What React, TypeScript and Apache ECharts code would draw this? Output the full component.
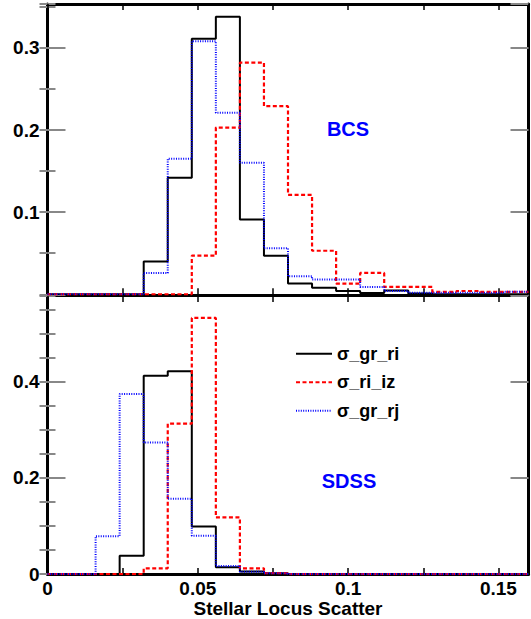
import React, { useEffect, useRef } from "react";
import * as echarts from "echarts";

// Bin edges (x = stellar locus scatter)
const BIN_EDGES = [
  0, 0.008, 0.016, 0.024, 0.032, 0.04, 0.048, 0.056, 0.064, 0.072, 0.08,
  0.088, 0.096, 0.104, 0.112, 0.12, 0.128, 0.136, 0.144, 0.152, 0.16,
];

const SERIES_NAMES = ["σ_gr_ri", "σ_ri_iz", "σ_gr_rj"];

// BCS panel (top)
const BCS_GR_RI = [0, 0, 0, 0, 0.04, 0.142, 0.311, 0.338, 0.091, 0.047, 0.013, 0.008, 0.004, 0.0015, 0.0045, 0.001, 0, 0, 0, 0];
const BCS_RI_IZ = [0, 0, 0, 0, 0, 0, 0.047, 0.203, 0.282, 0.229, 0.121, 0.053, 0.013, 0.026, 0.009, 0.009, 0.003, 0.004, 0.003, 0.003];
const BCS_GR_RJ = [0, 0, 0, 0, 0.026, 0.165, 0.308, 0.221, 0.16, 0.056, 0.022, 0.018, 0.018, 0.009, 0.004, 0.002, 0.002, 0.002, 0.002, 0.003];

// SDSS panel (bottom)
const SDSS_GR_RI = [0, 0, 0, 0.038, 0.413, 0.422, 0.099, 0.014, 0.0055, 0.002, 0, 0, 0, 0, 0, 0, 0, 0, 0, 0];
const SDSS_RI_IZ = [0, 0, 0, 0, 0.012, 0.313, 0.533, 0.118, 0.012, 0.002, 0, 0, 0, 0, 0, 0, 0, 0, 0, 0];
const SDSS_GR_RJ = [0, 0, 0.079, 0.375, 0.274, 0.157, 0.08, 0.017, 0.005, 0.002, 0, 0, 0, 0, 0, 0, 0, 0, 0, 0];

const X_MIN = 0;
const X_MAX = 0.16;
const TOP_Y_MAX = 0.3534;
const BOT_Y_MAX = 0.5787;

const FONT = "'Liberation Sans', Arial, Helvetica, sans-serif";

function stepPoints(vals: number[]) {
  const pts: number[][] = [];
  vals.forEach((v, i) => {
    pts.push([BIN_EDGES[i], v], [BIN_EDGES[i + 1], v]);
  });
  return pts;
}

const fmt = (v: number) => String(Number(v.toFixed(3)));
const isMult = (v: number, step: number) =>
  Math.abs(v / step - Math.round(v / step)) < 1e-6;

export default function App() {
  const ref = useRef<HTMLDivElement>(null);

  useEffect(() => {
    if (!ref.current) return;
    const chart = echarts.init(ref.current, undefined, { renderer: "svg" });

    const styles = [
      { color: "#000000", width: 2, type: "solid" as any },
      { color: "#ff0000", width: 2.2, type: [4, 2.5] as any },
      { color: "#0000ff", width: 2, type: [1, 1.4] as any },
    ];

    const xAxisBase = (grid: number, position: string, lineWidth: number, labels: boolean) => ({
      type: "value",
      gridIndex: grid,
      position,
      min: X_MIN,
      max: X_MAX,
      interval: 0.025,
      splitLine: { show: false },
      axisLine: { show: true, onZero: false, lineStyle: { color: "#000", width: lineWidth } },
      axisTick: { show: true, inside: true, length: 6, lineStyle: { color: "#000", width: 1.5 } },
      axisLabel: labels
        ? {
            show: true,
            margin: 5,
            color: "#000",
            fontFamily: FONT,
            fontWeight: "bold",
            fontSize: 19,
            showMaxLabel: false,
            formatter: (v: number) => (isMult(v, 0.05) && v < X_MAX - 1e-9 ? fmt(v) : ""),
          }
        : { show: false },
    });

    const yAxisPair = (grid: number, max: number, major: number, position: string, labels: boolean) => [
      {
        type: "value",
        gridIndex: grid,
        position,
        min: 0,
        max,
        interval: major,
        splitLine: { show: false },
        axisLine: { show: true, onZero: false, lineStyle: { color: "#000", width: 3 } },
        axisTick: { show: true, inside: true, length: 18, lineStyle: { color: "#888", width: 2 } },
        axisLabel: labels
          ? {
              show: true,
              margin: 8,
              color: "#000",
              fontFamily: FONT,
              fontWeight: "bold",
              fontSize: 19,
              showMaxLabel: false,
              formatter: (v: number) => {
                if (!isMult(v, major) || v > max - 1e-9) return "";
                if (grid === 0 && v < 1e-9) return "";
                return fmt(v);
              },
            }
          : { show: false },
      },
      {
        type: "value",
        gridIndex: grid,
        position,
        min: 0,
        max,
        interval: 0.05,
        splitLine: { show: false },
        axisLine: { show: false },
        axisTick: { show: true, inside: true, length: 8, lineStyle: { color: "#888", width: 2 } },
        axisLabel: { show: false },
      },
    ];

    const topSets = [BCS_GR_RI, BCS_RI_IZ, BCS_GR_RJ];
    const botSets = [SDSS_GR_RI, SDSS_RI_IZ, SDSS_GR_RJ];

    const series: any[] = [];
    topSets.forEach((vals, i) => {
      series.push({
        name: SERIES_NAMES[i],
        type: "line",
        xAxisIndex: 0,
        yAxisIndex: 0,
        data: stepPoints(vals),
        showSymbol: false,
        symbol: "none",
        lineStyle: styles[i],
        itemStyle: { color: styles[i].color },
        z: 3 + i,
      });
    });
    botSets.forEach((vals, i) => {
      series.push({
        name: SERIES_NAMES[i],
        type: "line",
        xAxisIndex: 2,
        yAxisIndex: 4,
        data: stepPoints(vals),
        showSymbol: false,
        symbol: "none",
        lineStyle: styles[i],
        itemStyle: { color: styles[i].color },
        z: 3 + i,
      });
    });

    const bottomX: any = xAxisBase(1, "bottom", 3, true);
    bottomX.name = "Stellar Locus Scatter";
    bottomX.nameLocation = "middle";
    bottomX.nameGap = 21;
    bottomX.nameTextStyle = { color: "#000", fontFamily: FONT, fontWeight: "bold", fontSize: 19 };

    chart.setOption({
      animation: false,
      backgroundColor: "#ffffff",
      grid: [
        { left: 47.5, right: 2.5, top: 4, height: 290.3 },
        { left: 47.5, right: 2.5, top: 296, bottom: 41.3 },
      ],
      xAxis: [
        xAxisBase(0, "bottom", 2, false),
        xAxisBase(0, "top", 3, false),
        bottomX,
        xAxisBase(1, "top", 2, false),
      ],
      yAxis: [
        ...yAxisPair(0, TOP_Y_MAX, 0.1, "left", true),
        ...yAxisPair(0, TOP_Y_MAX, 0.1, "right", false),
        ...yAxisPair(1, BOT_Y_MAX, 0.2, "left", true),
        ...yAxisPair(1, BOT_Y_MAX, 0.2, "right", false),
      ],
      legend: {
        show: true,
        orient: "vertical",
        left: 290,
        top: 339.7,
        itemWidth: 36,
        itemHeight: 14,
        itemGap: 10.5,
        data: SERIES_NAMES,
        selectedMode: false,
        itemStyle: { opacity: 0 },
        textStyle: { color: "#000", fontFamily: FONT, fontWeight: "bold", fontSize: 18, lineHeight: 18 },
      },
      graphic: [
        {
          type: "text",
          x: 348,
          y: 129,
          style: {
            text: "BCS",
            fill: "#0000ff",
            font: `bold 20px ${FONT}`,
            textAlign: "center",
            textVerticalAlign: "middle",
          },
        },
        {
          type: "text",
          x: 349,
          y: 481,
          style: {
            text: "SDSS",
            fill: "#0000ff",
            font: `bold 20px ${FONT}`,
            textAlign: "center",
            textVerticalAlign: "middle",
          },
        },
      ],
      series,
    });

    return () => {
      chart.dispose();
    };
  }, []);

  return (
    <div
      ref={ref}
      style={{ position: "fixed", left: 0, top: 0, width: 531, height: 619, background: "#fff" }}
    />
  );
}
